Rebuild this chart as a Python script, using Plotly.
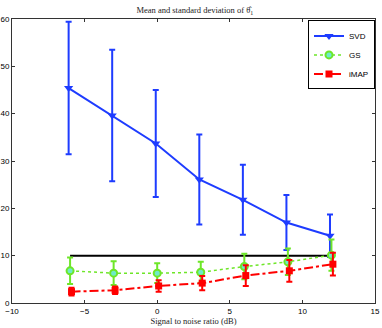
import plotly.graph_objects as go

# SNR values (dB)
snr = [-6, -3, 0, 3, 6, 9, 12]

# mean and std of theta_1 per method
svd_mean = [45.4, 39.6, 33.7, 26.1, 21.8, 17.0, 14.2]
svd_std = [14.0, 13.9, 11.3, 9.5, 7.4, 5.8, 4.5]
gs_mean = [6.8, 6.3, 6.3, 6.5, 7.7, 8.7, 10.1]
gs_std = [2.8, 2.5, 2.1, 2.2, 2.7, 2.8, 3.3]
imap_mean = [2.4, 2.7, 3.6, 4.2, 5.8, 6.8, 8.2]
imap_std = [0.8, 0.8, 1.2, 1.5, 2.2, 2.3, 2.4]

# true value reference line
true_x = [-6, 12]
true_y = [10, 10]

BLUE = "rgb(30,60,255)"
GREEN = "rgb(110,230,40)"
RED = "rgb(255,0,0)"

fig = go.Figure()

fig.add_trace(go.Scatter(
    x=true_x, y=true_y, mode="lines",
    line=dict(color="black", width=2),
    showlegend=False, hoverinfo="skip",
))

fig.add_trace(go.Scatter(
    x=[v - 0.1 for v in snr], y=svd_mean, name="SVD",
    mode="lines+markers",
    line=dict(color=BLUE, width=2),
    marker=dict(symbol="triangle-down", size=8, color=BLUE),
    error_y=dict(type="data", array=svd_std, color=BLUE, thickness=2, width=3),
))

fig.add_trace(go.Scatter(
    x=snr, y=gs_mean, name="GS",
    mode="lines+markers",
    line=dict(color=GREEN, width=1.5, dash="dot"),
    marker=dict(symbol="circle", size=7, color="rgb(110,235,200)",
                line=dict(color=GREEN, width=2)),
    error_y=dict(type="data", array=gs_std, color=GREEN, thickness=2, width=3),
))

fig.add_trace(go.Scatter(
    x=[v + 0.1 for v in snr], y=imap_mean, name="iMAP",
    mode="lines+markers",
    line=dict(color=RED, width=2, dash="dashdot"),
    marker=dict(symbol="square", size=7, color=RED),
    error_y=dict(type="data", array=imap_std, color=RED, thickness=2, width=3),
))

axis_style = dict(
    showline=True, linecolor="#333333", linewidth=1, mirror="allticks",
    ticks="inside", ticklen=3, tickcolor="#333333",
    showgrid=False, zeroline=False, automargin=False,
    tickfont=dict(family="Liberation Sans, Arial", size=8, color="black"),
)

fig.update_layout(
    width=382, height=328,
    paper_bgcolor="white", plot_bgcolor="white",
    margin=dict(l=12, r=7, t=19, b=25),
    title=dict(
        text="Mean and standard deviation of θ̂<sub>1</sub>",
        x=0.51, xanchor="center", y=0.978, yanchor="top",
        font=dict(family="Liberation Serif, DejaVu Serif", size=8.5, color="#222222"),
    ),
    xaxis=dict(range=[-10, 15], dtick=5,
               title=dict(text="Signal to noise ratio (dB)", standoff=0,
                          font=dict(family="Liberation Serif, DejaVu Serif",
                                    size=8.5, color="#222222")),
               **axis_style),
    yaxis=dict(range=[0, 60], dtick=10, ticklabelstandoff=0, **axis_style),
    legend=dict(
        x=1.0, y=0.995, xanchor="right", yanchor="top",
        bordercolor="black", borderwidth=1, bgcolor="white",
        font=dict(family="Liberation Sans, Arial", size=8, color="black"),
        itemwidth=30, tracegroupgap=0,
    ),
)

# drop the browser's default body margin so the figure fills the window
fig.write_html("out.html", config={"displayModeBar": False},
               post_script="document.body.style.margin='0';")
